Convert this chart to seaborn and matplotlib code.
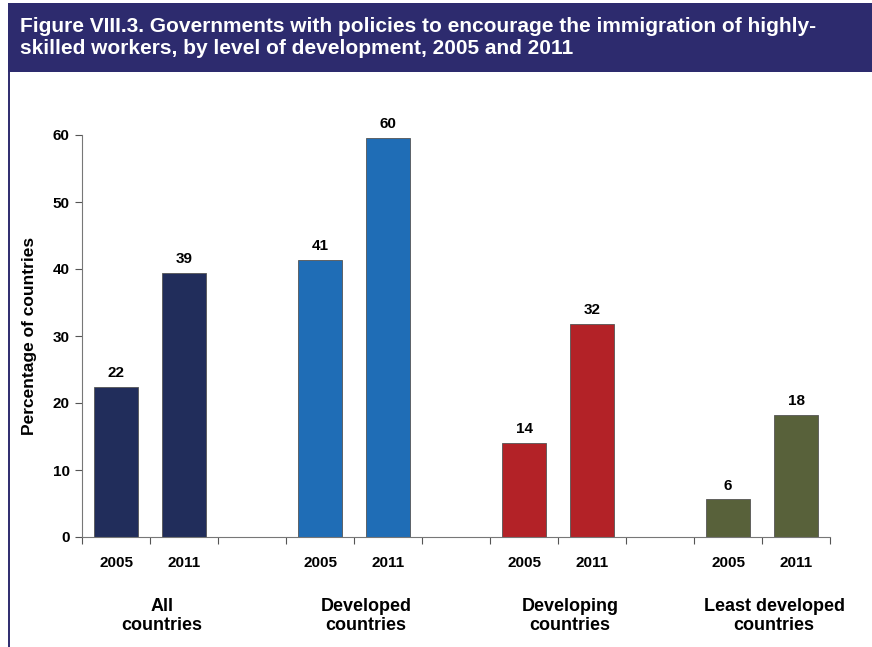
import matplotlib
matplotlib.use("Agg")
import matplotlib.pyplot as plt
from matplotlib.patches import Rectangle
from matplotlib.lines import Line2D
import seaborn as sns
import pandas as pd

# Data
groups = ["All\ncountries", "Developed\ncountries", "Developing\ncountries", "Least developed\ncountries"]
years = ["2005", "2011"]
pct_2005 = [22.4, 41.4, 14.0, 5.6]
pct_2011 = [39.4, 59.6, 31.8, 18.2]
group_colors = ["#212d5b", "#1f6db6", "#b32227", "#58613a"]

title = ("Figure VIII.3. Governments with policies to encourage the immigration of highly-\n"
         "skilled workers, by level of development, 2005 and 2011")

# Long-form table; each (group, year) gets its own slot, with an empty slot between groups
rows = []
order = []
for g, name in enumerate(groups):
    for y, vals in zip(years, [pct_2005, pct_2011]):
        key = f"{g}|{y}"
        rows.append({"slot": key, "group": name, "year": y, "value": vals[g]})
        order.append(key)
    if g < len(groups) - 1:
        order.append(f"gap{g}")
df = pd.DataFrame(rows)

sns.set_theme(style="white")
plt.rcParams["font.family"] = ["Liberation Sans", "DejaVu Sans"]
plt.rcParams["text.color"] = "black"
plt.rcParams["axes.labelcolor"] = "black"

fig = plt.figure(figsize=(8.72, 6.47), dpi=100)

# Title banner and left frame line
fig.patches.append(Rectangle((8 / 872, 1 - 72 / 647), 1 - 8 / 872, 69 / 647,
                             transform=fig.transFigure, facecolor="#2d2b6e",
                             edgecolor="none", zorder=0))
fig.lines.append(Line2D([8.5 / 872, 8.5 / 872], [0, 1 - 72 / 647],
                        transform=fig.transFigure, color="#2d2b6e", lw=1.4))
fig.text(20 / 872, 1 - 37 / 647, title, color="white", fontsize=15,
         fontweight="bold", va="center", ha="left", linespacing=1.2)

ax = fig.add_axes([82 / 872, 1 - 537 / 647, (830 - 82) / 872, (537 - 135) / 647])

sns.barplot(data=df, x="slot", y="value", hue="group", order=order,
            palette=group_colors, saturation=1, dodge=False, width=0.66,
            legend=False, edgecolor="#555555", linewidth=0.6, ax=ax)

# Value labels above bars
for container in ax.containers:
    labels = [f"{round(b.get_height()):d}" if b.get_height() > 0 else "" for b in container]
    ax.bar_label(container, labels=labels, padding=5, fontsize=11,
                 fontweight="bold", color="black")

n_slots = len(order)
ax.set_xlim(-0.5, n_slots - 0.5)
ax.set_ylim(0, 60)
ax.set_yticks(range(0, 61, 10))
ax.tick_params(axis="y", labelsize=11, length=5, width=0.8, color="#555555",
               labelcolor="black", left=True, pad=4)
for t in ax.get_yticklabels():
    t.set_fontweight("bold")

# Ticks at slot boundaries, year labels centered under the bars
ax.set_xticks([i - 0.5 for i in range(n_slots + 1)])
ax.set_xticklabels([])
ax.tick_params(axis="x", which="major", length=5, width=0.8, color="#555555",
               bottom=True, direction="out")
centers = [order.index(k) for k in order if not k.startswith("gap")]
year_labels = [k.split("|")[1] for k in order if not k.startswith("gap")]
ax.set_xticks(centers, minor=True)
ax.set_xticklabels(year_labels, minor=True, fontsize=11, fontweight="bold")
ax.tick_params(axis="x", which="minor", length=0, pad=14, labelcolor="black")

# Group labels below the years
for g, name in enumerate(groups):
    mid = (order.index(f"{g}|2005") + order.index(f"{g}|2011")) / 2 + 0.18
    ax.text(mid, -11.8, name, ha="center", va="center", fontsize=13,
            fontweight="bold", linespacing=1.15, color="black",
            transform=ax.transData)

ax.set_xlabel("")
ax.set_ylabel("Percentage of countries", fontsize=12.5, fontweight="bold",
              labelpad=11, color="black")

for s in ["top", "right"]:
    ax.spines[s].set_visible(False)
for s in ["left", "bottom"]:
    ax.spines[s].set_color("#777777")
    ax.spines[s].set_linewidth(0.8)

fig.savefig("out.png", dpi=100)
